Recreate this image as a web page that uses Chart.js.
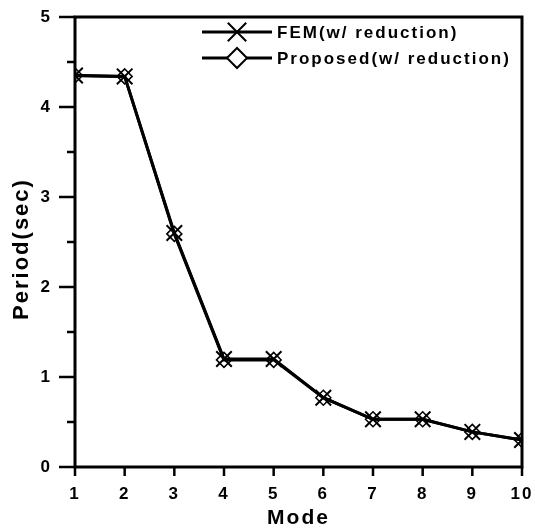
<!DOCTYPE html>
<html>
<head>
<meta charset="utf-8">
<script src="https://cdn.jsdelivr.net/npm/chart.js@4/dist/chart.umd.min.js"></script>
<style>
  html, body { margin: 0; padding: 0; background: #fff; }
  #wrap { width: 535px; height: 531px; }
</style>
</head>
<body>
<div id="wrap"><canvas id="c" width="535" height="531"></canvas></div>
<script>
const modes = [1, 2, 3, 4, 5, 6, 7, 8, 9, 10];
const femPeriod = [4.35, 4.34, 2.60, 1.20, 1.20, 0.77, 0.53, 0.53, 0.39, 0.30];
const proposedPeriod = [4.35, 4.34, 2.59, 1.19, 1.19, 0.77, 0.53, 0.53, 0.39, 0.30];
const seriesNames = ['FEM(w/ reduction)', 'Proposed(w/ reduction)'];
const xTitle = 'Mode';
const yTitle = 'Period(sec)';

const FONT = '"Liberation Sans", Arial, sans-serif';

function setSpacing(chart) { chart.ctx.letterSpacing = '2px'; }

const spacingPlugin = {
  id: 'spacing',
  beforeUpdate: setSpacing,
  beforeLayout: setSpacing,
  beforeDraw: setSpacing
};

const framePlugin = {
  id: 'frameTicks',
  afterDraw(chart) {
    const { ctx, chartArea: a, scales } = chart;
    ctx.save();
    ctx.strokeStyle = '#000';
    ctx.lineWidth = 3;
    ctx.strokeRect(a.left, a.top, a.right - a.left, a.bottom - a.top);
    ctx.lineWidth = 2.5;
    ctx.beginPath();
    scales.y.ticks.forEach(t => {
      const py = scales.y.getPixelForValue(t.value);
      const len = Number.isInteger(t.value) ? 16 : 8;
      ctx.moveTo(a.left - len, py);
      ctx.lineTo(a.left, py);
    });
    scales.x.ticks.forEach(t => {
      const px = scales.x.getPixelForValue(t.value);
      ctx.moveTo(px, a.bottom);
      ctx.lineTo(px, a.bottom + 9);
    });
    ctx.stroke();
    // y axis title
    ctx.translate(22, (a.top + a.bottom) / 2 + 7);
    ctx.rotate(-Math.PI / 2);
    ctx.fillStyle = '#000';
    ctx.font = 'bold 22px ' + FONT;
    ctx.textAlign = 'center';
    ctx.textBaseline = 'middle';
    ctx.fillText(yTitle, 0, 0);
    ctx.restore();
  }
};

const legendPlugin = {
  id: 'lineLegend',
  afterDatasetsDraw(chart) {
    const { ctx, chartArea: a } = chart;
    ctx.save();
    chart.data.datasets.forEach((ds, i) => {
      const y = a.top + 15 + i * 26;
      const x0 = a.left + 127, x1 = a.left + 197, xm = a.left + 162;
      ctx.strokeStyle = '#000';
      ctx.lineWidth = 3;
      ctx.beginPath();
      ctx.moveTo(x0, y);
      ctx.lineTo(x1, y);
      ctx.stroke();
      ctx.fillStyle = '#fff';
      ctx.strokeStyle = '#000';
      ctx.lineWidth = 2;
      Chart.helpers.drawPoint(ctx, {
        pointStyle: ds.pointStyle,
        radius: ds.pointStyle === 'crossRot' ? 13 : 10,
        rotation: 0,
        borderWidth: 2
      }, xm, y);
      ctx.fillStyle = '#000';
      ctx.font = 'bold 17px ' + FONT;
      ctx.textBaseline = 'middle';
      ctx.textAlign = 'left';
      ctx.fillText(ds.label, x1 + 5, y + 1);
    });
    ctx.restore();
  }
};

new Chart(document.getElementById('c'), {
  type: 'line',
  data: {
    datasets: [
      {
        label: seriesNames[0],
        data: modes.map((m, i) => ({ x: m, y: femPeriod[i] })),
        borderColor: '#000',
        borderWidth: 3,
        pointStyle: 'crossRot',
        pointRadius: 11,
        pointBorderWidth: 2,
        pointBorderColor: '#000',
        pointBackgroundColor: 'transparent',
        tension: 0
      },
      {
        label: seriesNames[1],
        data: modes.map((m, i) => ({ x: m, y: proposedPeriod[i] })),
        borderColor: '#000',
        borderWidth: 3,
        pointStyle: 'rectRot',
        pointRadius: 7.5,
        pointBorderWidth: 1.5,
        pointBorderColor: '#000',
        pointBackgroundColor: 'transparent',
        tension: 0
      }
    ]
  },
  plugins: [spacingPlugin, framePlugin, legendPlugin],
  options: {
    responsive: false,
    animation: false,
    layout: { padding: { top: 17, right: 10, left: 0, bottom: 0 } },
    plugins: { legend: { display: false }, tooltip: { enabled: false } },
    scales: {
      x: {
        type: 'linear',
        min: 1, max: 10,
        afterFit(s) { s.height = 64; s.paddingLeft = 0; s.paddingRight = 0; s.paddingTop = 0; s.paddingBottom = 0; },
        grid: { display: true, drawOnChartArea: false, drawTicks: false },
        border: { display: false },
        ticks: {
          stepSize: 1,
          padding: 17,
          color: '#000',
          font: { family: FONT, size: 17, weight: 'bold' },
          maxRotation: 0
        },
        title: {
          display: true,
          text: xTitle,
          color: '#000',
          font: { family: FONT, size: 21, weight: 'bold' },
          padding: { top: 0, bottom: 0 }
        }
      },
      y: {
        min: 0, max: 5,
        afterFit(s) { s.width = 75; s.paddingLeft = 0; s.paddingRight = 0; s.paddingTop = 0; s.paddingBottom = 0; },
        grid: { display: true, drawOnChartArea: false, drawTicks: false },
        border: { display: false },
        ticks: {
          stepSize: 0.5,
          padding: 23,
          color: '#000',
          font: { family: FONT, size: 17, weight: 'bold' },
          callback: v => Number.isInteger(v) ? String(v) : ''
        },
        title: { display: false }
      }
    }
  }
});
</script>
</body>
</html>
